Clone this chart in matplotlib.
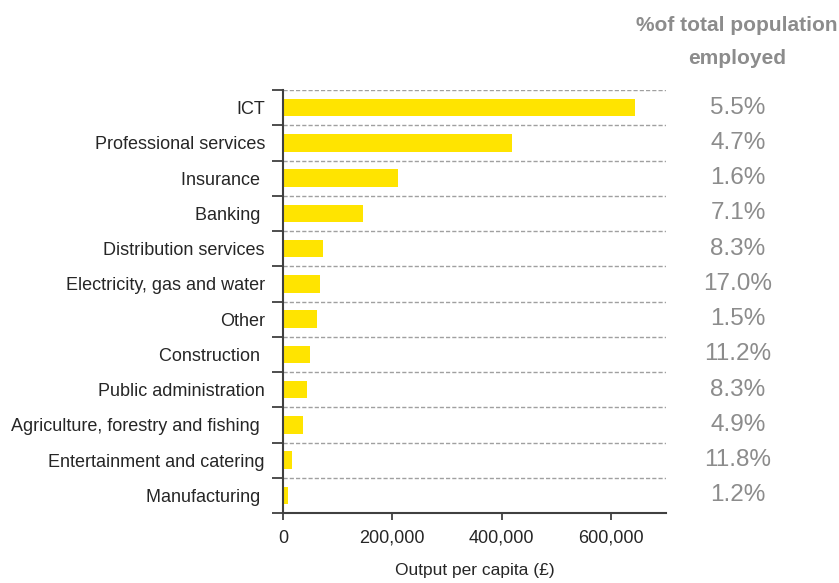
import matplotlib.pyplot as plt
import numpy as np
from matplotlib.ticker import FuncFormatter
from matplotlib.transforms import blended_transform_factory

plt.rcParams['font.family'] = ['Liberation Sans', 'DejaVu Sans']

# sectors, output per head and share of employment
sectors = ["ICT", "Professional services", "Insurance ", "Banking ",
           "Distribution services", "Electricity, gas and water", "Other",
           "Construction ", "Public administration",
           "Agriculture, forestry and fishing ", "Entertainment and catering",
           "Manufacturing "]
output = [644000, 418000, 210000, 146000, 74000, 67000, 62000,
          50000, 44000, 37000, 16000, 10000]
employed = ["5.5%", "4.7%", "1.6%", "7.1%", "8.3%", "17.0%", "1.5%",
            "11.2%", "8.3%", "4.9%", "11.8%", "1.2%"]

fig = plt.figure(figsize=(8.39, 5.83), dpi=100)
ax = fig.add_axes([0.3373, 0.12, 0.4561, 0.7256])

y = np.arange(len(sectors))
ax.barh(y, output, height=0.5, color="#FFE400")

ax.set_ylim(len(sectors) - 0.5, -0.5)
ax.set_xlim(0, 700000)

# labels at the bar centres, tick marks and dashed lines between rows
ax.set_yticks(y)
ax.set_yticklabels(sectors, fontsize=13, color="#262626")
ax.tick_params(axis="y", which="major", length=0, pad=13)
ax.set_yticks(np.arange(-0.5, len(sectors), 1), minor=True)
ax.tick_params(axis="y", which="minor", length=8, width=1.3, color="#404040", direction="out")
ax.grid(axis="y", which="minor", linestyle=(0, (3, 1.5)), color="#a0a0a0", linewidth=1)

ax.set_xticks([0, 200000, 400000, 600000])
ax.xaxis.set_major_formatter(FuncFormatter(lambda v, p: f"{int(v):,}"))
ax.tick_params(axis="x", length=5, width=1.3, color="#404040", labelsize=13,
               labelcolor="#262626", pad=7)
ax.set_xlabel("Output per capita (£)", fontsize=12.5, color="#262626", labelpad=12)

for s in ["top", "right"]:
    ax.spines[s].set_visible(False)
for s in ["left", "bottom"]:
    ax.spines[s].set_color("#404040")
    ax.spines[s].set_linewidth(1.5)

# employment share column on the right
trans = blended_transform_factory(fig.transFigure, ax.transData)
for yi, pct in zip(y, employed):
    ax.text(0.8796, yi, pct, transform=trans, ha="center", va="center",
            fontsize=17.5, color="#8c8c8c", clip_on=False)

fig.text(0.878, 0.957, "%of total population", ha="center", va="center",
         fontsize=15, fontweight="bold", color="#8c8c8c")
fig.text(0.878, 0.9005, "employed", ha="center", va="center",
         fontsize=15, fontweight="bold", color="#8c8c8c")

fig.savefig("out.png", dpi=100, facecolor="white")
